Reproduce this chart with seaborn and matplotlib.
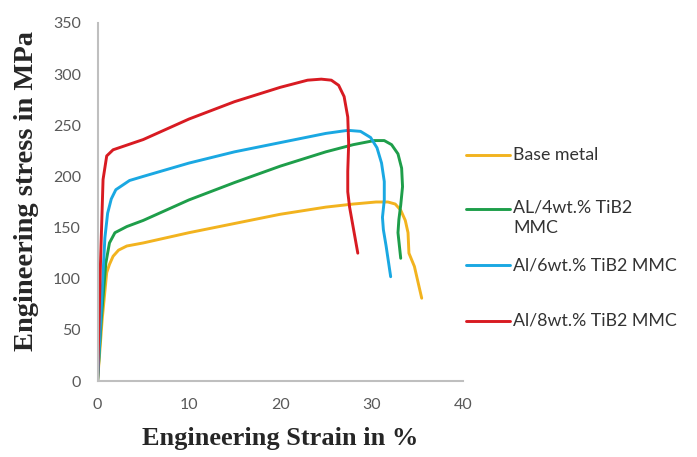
import numpy as np
import pandas as pd
import matplotlib
matplotlib.use("Agg")
import matplotlib.pyplot as plt
from matplotlib.lines import Line2D
import seaborn as sns

# ---------------------------
# DATA
# ---------------------------
base_strain = [0, 0.5, 1.0, 1.3, 1.7, 2.3, 3.2, 5, 10, 15, 20, 25, 28, 30.5, 31.8, 32.6, 33.2, 33.7, 34.0, 34.1, 34.7, 35.5]
base_stress = [0, 60, 106, 114, 122, 128, 132, 135, 145, 154, 163, 170, 173, 175, 175, 173, 167, 157, 145, 125, 112, 81]

al4_strain = [0, 0.4, 0.9, 1.3, 1.9, 3.2, 5, 10, 15, 20, 25, 28, 30.3, 31.4, 32.2, 32.9, 33.3, 33.4, 33.2, 33.0, 32.9, 33.2]
al4_stress = [0, 60, 115, 135, 145, 151, 157, 177, 194, 210, 224, 231, 235, 235, 231, 222, 208, 190, 172, 158, 145, 120]

al6_strain = [0, 0.4, 0.8, 1.1, 1.5, 2.0, 3.5, 5, 10, 15, 20, 25, 27.4, 28.8, 29.9, 30.6, 31.1, 31.4, 31.4, 31.2, 31.3, 31.6, 32.1]
al6_stress = [0, 70, 140, 164, 178, 187, 196, 200, 213, 224, 233, 242, 245, 244, 238, 228, 213, 195, 177, 160, 148, 132, 102]

al8_strain = [0, 0.3, 0.6, 1.0, 1.7, 5, 10, 15, 20, 23, 24.5, 25.6, 26.4, 27.0, 27.4, 27.5, 27.4, 27.4, 27.6, 27.9, 28.5]
al8_stress = [0, 110, 197, 220, 226, 236, 256, 273, 287, 294, 295, 294, 289, 278, 258, 232, 205, 185, 170, 155, 125]

labels = ["Base metal", "AL/4wt.% TiB2\nMMC", "Al/6wt.% TiB2 MMC", "Al/8wt.% TiB2 MMC"]
colors = ["#F2B31F", "#1E9E4A", "#1AA8E2", "#D81B22"]

x_ticks = [0, 10, 20, 30, 40]
y_ticks = [0, 50, 100, 150, 200, 250, 300, 350]

# ---------------------------
# BUILD LONG TABLE
# ---------------------------
frames = []
for lab, xs, ys in zip(labels,
                       [base_strain, al4_strain, al6_strain, al8_strain],
                       [base_stress, al4_stress, al6_stress, al8_stress]):
    frames.append(pd.DataFrame({"strain": xs, "stress": ys, "series": lab}))
df = pd.concat(frames, ignore_index=True)

# ---------------------------
# PLOT
# ---------------------------
sns.set_style("white")
plt.rcParams["font.family"] = ["Lato", "DejaVu Sans"]

fig = plt.figure(figsize=(6.97, 4.57), dpi=100)
ax = fig.add_axes([0.140, 0.166, 0.524, 0.784])

sns.lineplot(data=df, x="strain", y="stress", hue="series", hue_order=labels,
             palette=colors, sort=False, estimator=None, units="series",
             linewidth=2.1, legend=False, ax=ax)

ax.set_xlim(0, 40)
ax.set_ylim(0, 350)
ax.set_xticks(x_ticks)
ax.set_yticks(y_ticks)
ax.tick_params(axis="both", length=0, labelsize=11.5, labelcolor="#595959", pad=12)

for side in ["top", "right"]:
    ax.spines[side].set_visible(False)
for side in ["left", "bottom"]:
    ax.spines[side].set_color("#BFBFBF")
    ax.spines[side].set_linewidth(1.5)

ax.set_xlabel("Engineering Strain in %", family="Liberation Serif",
              fontweight="bold", fontsize=19, labelpad=11)
ax.set_ylabel("Engineering stress in MPa", family="Liberation Serif",
              fontweight="bold", fontsize=20.5, labelpad=7)
ax.yaxis.set_label_coords(-0.16, 0.53)

# ---------------------------
# LEGEND (Excel style, evenly spaced, handle on first text line)
# ---------------------------
leg_y = [0.661, 0.543, 0.420, 0.298]
for lab, col, y in zip(labels, colors, leg_y):
    fig.add_artist(Line2D([0.669, 0.732], [y, y], color=col, linewidth=2.1,
                          transform=fig.transFigure))
    if "\n" in lab:
        fig.text(0.736, y + 0.021, lab, va="top", ha="left", fontsize=12.8,
                 color="#333333", linespacing=1.4)
    else:
        fig.text(0.736, y, lab, va="center", ha="left", fontsize=12.8,
                 color="#333333")

fig.savefig("out.png", dpi=100)
